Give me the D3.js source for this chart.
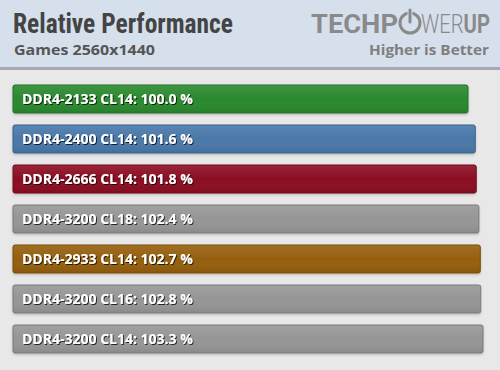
<!DOCTYPE html>
<html><head><meta charset="utf-8">
<script src="https://cdn.jsdelivr.net/npm/d3@7"></script>
<style>html,body{margin:0;padding:0;background:#e8e8e8;}svg{display:block;}</style>
</head><body>
<script>
const categories = ["DDR4-2133 CL14","DDR4-2400 CL14","DDR4-2666 CL14","DDR4-3200 CL18","DDR4-2933 CL14","DDR4-3200 CL16","DDR4-3200 CL14"];
const values = [100.0,101.6,101.8,102.4,102.7,102.8,103.3];
const colors = ["#2a892e","#4878a9","#8c0b22","#969696","#955f08","#969696","#969696"];
const titleText = "Relative Performance";
const subtitleText = "Games 2560x1440";
const noteText = "Higher is Better";

const W=500,H=370;
const svg=d3.select("body").append("svg").attr("width",W).attr("height",H);
const defs=svg.append("defs");
const sh=defs.append("filter").attr("id","ts").attr("x","-10%").attr("y","-30%").attr("width","120%").attr("height","160%");
sh.append("feDropShadow").attr("dx",1).attr("dy",1).attr("stdDeviation",0.6).attr("flood-color","#000").attr("flood-opacity",0.75);
const bs=defs.append("filter").attr("id","bs").attr("x","-5%").attr("y","-20%").attr("width","110%").attr("height","160%");
bs.append("feDropShadow").attr("dx",0).attr("dy",1.5).attr("stdDeviation",1.2).attr("flood-color","#000").attr("flood-opacity",0.18);
const gl=defs.append("linearGradient").attr("id","gloss").attr("x1",0).attr("y1",0).attr("x2",0).attr("y2",1);
gl.append("stop").attr("offset","0%").attr("stop-color","#fff").attr("stop-opacity",0.10);
gl.append("stop").attr("offset","50%").attr("stop-color","#fff").attr("stop-opacity",0.0);
gl.append("stop").attr("offset","100%").attr("stop-color","#000").attr("stop-opacity",0.08);

svg.append("rect").attr("width",W).attr("height",H).attr("fill","#e8e8e8");
// header
svg.append("rect").attr("width",W).attr("height",67).attr("fill","#d6e0ed");
svg.append("rect").attr("y",67).attr("width",W).attr("height",3).attr("fill","#a3a9b7");

svg.append("text").attr("x",13).attr("y",33).text(titleText)
  .attr("font-family","Roboto Condensed, Roboto, sans-serif").attr("font-weight","bold").attr("font-size",27)
  .attr("fill","#444").attr("textLength",220).attr("lengthAdjust","spacingAndGlyphs");
svg.append("text").attr("x",14).attr("y",55).text(subtitleText)
  .attr("font-family","Open Sans, sans-serif").attr("font-weight","bold").attr("font-size",14.5)
  .attr("fill","#555").attr("textLength",141).attr("lengthAdjust","spacingAndGlyphs");
svg.append("text").attr("x",489).attr("y",55).attr("text-anchor","end").text(noteText)
  .attr("font-family","Open Sans, sans-serif").attr("font-weight","bold").attr("font-size",14)
  .attr("fill","#7f7f7f").attr("textLength",120).attr("lengthAdjust","spacingAndGlyphs");

// logo
const lg=svg.append("g").attr("fill","#8a8a8a").attr("font-family","Roboto, sans-serif").attr("font-size",25);
lg.append("text").attr("x",311).attr("y",33).attr("font-weight","bold").text("TECHP")
  .attr("textLength",87).attr("lengthAdjust","spacingAndGlyphs");
lg.append("circle").attr("cx",410).attr("cy",23).attr("r",10).attr("fill","none").attr("stroke","#8a8a8a").attr("stroke-width",3);
lg.append("line").attr("x1",410).attr("x2",410).attr("y1",11).attr("y2",23).attr("stroke","#d6e0ed").attr("stroke-width",5);
lg.append("line").attr("x1",410).attr("x2",410).attr("y1",10).attr("y2",22).attr("stroke","#8a8a8a").attr("stroke-width",3).attr("stroke-linecap","round");
const t2=lg.append("text").attr("x",0).attr("y",0);
t2.append("tspan").attr("font-weight","300").text("WER");
t2.append("tspan").attr("font-weight","bold").text("UP");
const natural=t2.node().getComputedTextLength()||80;
t2.attr("transform",`translate(421,33) scale(${69/natural},1)`);

// scales
const x=d3.scaleLinear().domain([0,100]).range([13,468]);
const y=d3.scaleBand().domain(categories).range([79,359]).paddingInner(0.3).paddingOuter(0.15);

const g=svg.append("g");
const bars=g.selectAll("g.bar").data(categories).join("g").attr("class","bar");
bars.append("rect").attr("x",x(0)).attr("y",d=>y(d)).attr("width",(d,i)=>x(values[i])-x(0)).attr("height",y.bandwidth())
  .attr("rx",2).attr("fill",(d,i)=>colors[i]).attr("filter","url(#bs)")
  .attr("stroke",(d,i)=>d3.color(colors[i]).darker(0.6)).attr("stroke-width",1);
bars.append("rect").attr("x",x(0)+0.5).attr("y",d=>y(d)+0.5).attr("width",(d,i)=>x(values[i])-x(0)-1).attr("height",y.bandwidth()-1)
  .attr("rx",2).attr("fill","url(#gloss)");
bars.append("text").attr("x",x(0)+9).attr("y",d=>y(d)+y.bandwidth()/2+5)
  .text((d,i)=>d+": "+values[i].toFixed(1)+" %")
  .attr("font-family","Open Sans, sans-serif").attr("font-weight","bold").attr("font-size",14)
  .attr("fill","#fff").attr("filter","url(#ts)");
</script>
</body></html>
